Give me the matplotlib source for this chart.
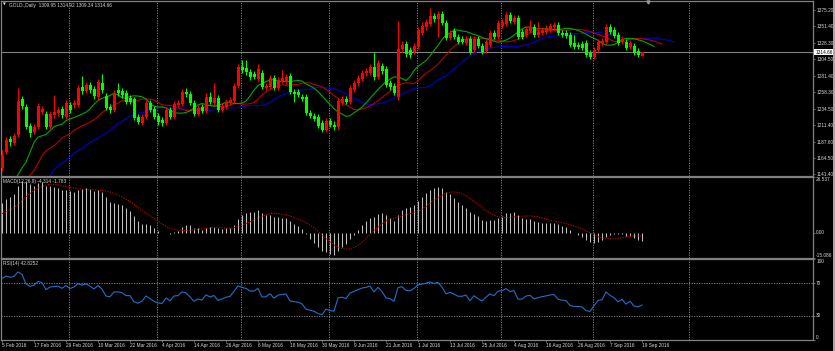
import numpy as np
import pandas as pd
import matplotlib
matplotlib.use("Agg")
import matplotlib.pyplot as plt
from matplotlib.patches import Rectangle

plt.rcParams['font.family'] = ['Liberation Sans', 'DejaVu Sans']

# ------------------------------------------------------------------ data
symbol_title = "GOLD.,Daily  1309.95 1314.92 1309.34 1314.66"
macd_title = "MACD(12,26,9) -4.314 -1.783"
rsi_title = "RSI(14) 42.8252"

date_labels = ["5 Feb 2016", "17 Feb 2016", "29 Feb 2016", "10 Mar 2016", "22 Mar 2016",
               "4 Apr 2016", "14 Apr 2016", "26 Apr 2016", "6 May 2016", "18 May 2016",
               "30 May 2016", "9 Jun 2016", "21 Jun 2016", "1 Jul 2016", "13 Jul 2016",
               "25 Jul 2016", "4 Aug 2016", "16 Aug 2016", "26 Aug 2016", "7 Sep 2016",
               "19 Sep 2016"]
price_ticks = [1375.20, 1351.40, 1328.30, 1304.50, 1281.40, 1258.30, 1234.50,
               1211.40, 1187.60, 1164.50, 1141.40]
last_price = 1314.66
macd_scale = (-15.086, 33.6)          # visible range of the MACD window
macd_tick_labels = ["26.537", "0.00", "-15.086"]
rsi_ticks = [100, 70, 30, 0]
rsi_levels = [70, 30]

opens = [1149.9, 1172.7, 1191.2, 1185.5, 1196.9, 1248.1, 1236.7, 1209.7, 1201.2, 1208.3,
         1229.6, 1226.8, 1208.3, 1225.4, 1228.2, 1233.9, 1222.5, 1239.6, 1239.6, 1239.6,
         1265.2, 1259.5, 1268.0, 1262.4, 1251.0, 1270.9, 1252.4, 1236.7, 1232.5, 1260.9,
         1259.5, 1256.7, 1249.5, 1248.1, 1222.5, 1214.0, 1222.5, 1242.4, 1233.9, 1223.9,
         1218.2, 1214.0, 1232.5, 1222.5, 1239.6, 1241.0, 1258.1, 1255.2, 1242.4, 1226.8,
         1236.7, 1231.0, 1251.0, 1242.4, 1249.5, 1232.5, 1236.7, 1242.4, 1245.3, 1266.6,
         1293.7, 1292.2, 1286.5, 1283.7, 1276.6, 1285.1, 1263.8, 1265.2, 1278.0, 1263.8,
         1273.7, 1272.3, 1280.9, 1258.1, 1258.1, 1251.0, 1251.0, 1228.2, 1223.9, 1222.5,
         1214.0, 1204.0, 1216.8, 1211.1, 1208.3, 1242.4, 1248.1, 1243.9, 1260.9, 1270.9,
         1276.6, 1285.1, 1285.1, 1293.7, 1279.4, 1295.1, 1290.8, 1270.9, 1266.6, 1251.0,
         1319.3, 1326.4, 1317.9, 1315.0, 1322.1, 1342.0, 1350.6, 1354.8, 1366.2, 1362.0,
         1369.1, 1356.3, 1334.9, 1344.9, 1336.3, 1333.5, 1327.8, 1333.5, 1317.9, 1333.5,
         1323.5, 1316.4, 1325.0, 1342.0, 1336.3, 1352.0, 1354.8, 1367.7, 1357.7, 1363.4,
         1343.5, 1339.2, 1344.9, 1350.6, 1339.2, 1342.0, 1343.5, 1346.3, 1350.6, 1353.4,
         1342.0, 1342.0, 1339.2, 1327.8, 1325.0, 1326.4, 1327.8, 1313.6, 1307.9, 1317.9,
         1326.4, 1329.2, 1350.6, 1346.3, 1339.2, 1329.2, 1329.2, 1322.1, 1323.5, 1316.4,
         1309.95]
highs = [1175.5, 1194.0, 1195.5, 1199.7, 1263.8, 1252.4, 1241.0, 1214.0, 1212.5, 1242.4,
         1238.2, 1231.0, 1231.0, 1253.8, 1236.7, 1238.2, 1246.7, 1243.9, 1246.7, 1268.0,
         1280.9, 1272.3, 1272.3, 1266.6, 1276.6, 1283.7, 1256.7, 1241.0, 1260.9, 1270.9,
         1263.8, 1260.9, 1253.8, 1251.0, 1226.8, 1226.8, 1246.7, 1246.7, 1238.2, 1228.2,
         1222.5, 1236.7, 1236.7, 1245.3, 1246.7, 1262.4, 1263.8, 1259.5, 1246.7, 1239.6,
         1241.0, 1256.7, 1258.1, 1270.9, 1253.8, 1242.4, 1248.1, 1251.0, 1270.9, 1297.9,
         1303.6, 1303.6, 1290.8, 1288.0, 1297.9, 1289.4, 1270.9, 1282.3, 1282.3, 1279.4,
         1289.4, 1283.7, 1285.1, 1262.4, 1262.4, 1255.2, 1255.2, 1232.5, 1228.2, 1226.8,
         1218.2, 1221.1, 1221.1, 1216.8, 1249.5, 1252.4, 1252.4, 1268.0, 1275.2, 1282.3,
         1289.4, 1292.2, 1297.9, 1315.0, 1303.6, 1299.4, 1295.1, 1275.2, 1270.9, 1359.1,
         1330.7, 1330.7, 1322.1, 1327.8, 1350.6, 1357.7, 1362.0, 1377.6, 1370.5, 1373.3,
         1373.3, 1360.5, 1346.3, 1349.2, 1340.6, 1337.8, 1337.8, 1337.8, 1337.8, 1337.8,
         1327.8, 1333.5, 1346.3, 1346.3, 1360.5, 1362.0, 1372.0, 1372.0, 1367.7, 1367.7,
         1347.7, 1352.0, 1360.5, 1354.8, 1357.7, 1350.6, 1353.4, 1356.3, 1357.7, 1357.7,
         1346.3, 1346.3, 1343.5, 1339.2, 1329.2, 1330.7, 1332.1, 1317.9, 1322.1, 1333.5,
         1334.9, 1354.8, 1354.8, 1350.6, 1343.5, 1337.8, 1333.5, 1332.1, 1327.8, 1320.7,
         1314.92]
lows = [1145.7, 1169.9, 1181.2, 1182.7, 1194.0, 1233.9, 1205.4, 1194.0, 1198.3, 1205.4,
        1226.8, 1205.4, 1205.4, 1221.1, 1223.9, 1221.1, 1219.7, 1228.2, 1235.3, 1236.7,
        1255.2, 1256.7, 1256.7, 1248.1, 1246.7, 1256.7, 1232.5, 1228.2, 1229.6, 1252.4,
        1249.5, 1241.0, 1241.0, 1218.2, 1212.5, 1211.1, 1219.7, 1229.6, 1219.7, 1211.1,
        1209.7, 1211.1, 1219.7, 1219.7, 1236.7, 1238.2, 1251.0, 1239.6, 1223.9, 1223.9,
        1228.2, 1228.2, 1241.0, 1239.6, 1229.6, 1229.6, 1233.9, 1239.6, 1242.4, 1263.8,
        1285.1, 1282.3, 1275.2, 1276.6, 1273.7, 1262.4, 1260.9, 1262.4, 1260.9, 1260.9,
        1270.9, 1269.5, 1255.2, 1243.9, 1251.0, 1245.3, 1225.4, 1221.1, 1216.8, 1206.9,
        1201.2, 1201.2, 1208.3, 1204.0, 1205.4, 1239.6, 1241.0, 1241.0, 1258.1, 1266.6,
        1273.7, 1280.9, 1282.3, 1275.2, 1276.6, 1283.7, 1265.2, 1260.9, 1253.8, 1246.7,
        1315.0, 1307.9, 1306.5, 1312.2, 1319.3, 1339.2, 1346.3, 1352.0, 1357.7, 1336.3,
        1353.4, 1332.1, 1332.1, 1333.5, 1326.4, 1326.4, 1325.0, 1312.2, 1315.0, 1320.7,
        1312.2, 1313.6, 1322.1, 1333.5, 1333.5, 1349.2, 1352.0, 1356.3, 1354.8, 1333.5,
        1333.5, 1336.3, 1342.0, 1336.3, 1336.3, 1339.2, 1340.6, 1343.5, 1347.7, 1339.2,
        1336.3, 1334.9, 1322.1, 1319.3, 1319.3, 1317.9, 1307.9, 1305.0, 1305.0, 1315.0,
        1323.5, 1326.4, 1340.6, 1334.9, 1325.0, 1326.4, 1317.9, 1319.3, 1310.7, 1307.9,
        1309.34]
closes = [1168.4, 1189.8, 1186.9, 1195.5, 1245.3, 1238.2, 1208.3, 1199.7, 1208.3, 1238.2,
          1233.9, 1208.3, 1226.8, 1229.6, 1232.5, 1225.4, 1242.4, 1232.5, 1242.4, 1263.8,
          1259.5, 1268.0, 1260.9, 1252.4, 1272.3, 1260.9, 1235.3, 1232.5, 1256.7, 1256.7,
          1253.8, 1243.9, 1243.9, 1221.1, 1215.4, 1222.5, 1242.4, 1232.5, 1222.5, 1215.4,
          1214.0, 1232.5, 1222.5, 1241.0, 1242.4, 1258.1, 1255.2, 1242.4, 1226.8, 1235.3,
          1231.0, 1251.0, 1243.9, 1249.5, 1232.5, 1238.2, 1243.9, 1246.7, 1266.6, 1293.7,
          1289.4, 1286.5, 1279.4, 1279.4, 1290.8, 1265.2, 1266.6, 1278.0, 1263.8, 1275.2,
          1278.0, 1279.4, 1258.1, 1255.2, 1253.8, 1248.1, 1228.2, 1223.9, 1219.7, 1209.7,
          1204.0, 1216.8, 1211.1, 1208.3, 1245.3, 1248.1, 1243.9, 1263.8, 1270.9, 1278.0,
          1285.1, 1288.0, 1293.7, 1279.4, 1299.4, 1288.0, 1268.0, 1265.2, 1256.7, 1319.3,
          1325.0, 1312.2, 1310.7, 1323.5, 1346.3, 1352.0, 1357.7, 1366.2, 1362.0, 1369.1,
          1356.3, 1334.9, 1342.0, 1336.3, 1329.2, 1329.2, 1333.5, 1315.0, 1333.5, 1323.5,
          1315.0, 1329.2, 1342.0, 1336.3, 1356.3, 1357.7, 1367.7, 1359.1, 1363.4, 1336.3,
          1336.3, 1347.7, 1350.6, 1339.2, 1343.5, 1346.3, 1349.2, 1352.0, 1353.4, 1342.0,
          1339.2, 1337.8, 1325.0, 1322.1, 1322.1, 1320.7, 1310.7, 1307.9, 1317.9, 1329.2,
          1330.7, 1350.6, 1343.5, 1337.8, 1327.8, 1333.5, 1320.7, 1327.8, 1313.6, 1310.7,
          1314.66]

alligator_start = {"jaw": 1117.0, "teeth": 1126.0, "lips": 1130.0}
ema_start = {"fast": 1140.0, "slow": 1123.0}
signal_start = 10.7
rsi_start = {"gain": 8.0, "loss": 3.0, "prev_close": 1150.0}

# ------------------------------------------------------------------ indicators
o = np.array(opens); h = np.array(highs); l = np.array(lows); c = np.array(closes)
n = len(c)
assert len(o) == len(h) == len(l) == n
x = np.arange(n)
median = (h + l) / 2.0


def smma(values, period, start):
    out = np.empty(len(values))
    s = start
    for k, v in enumerate(values):
        if k > 0:
            s = (s * (period - 1) + v) / period
        out[k] = s
    return out


def ema(values, period, start):
    a = 2.0 / (period + 1)
    s = start
    out = []
    for v in values:
        s = s + a * (v - s)
        out.append(s)
    return np.array(out)


jaw = smma(median, 13, alligator_start["jaw"])
teeth = smma(median, 8, alligator_start["teeth"])
lips = smma(median, 5, alligator_start["lips"])

macd = ema(c, 12, ema_start["fast"]) - ema(c, 26, ema_start["slow"])
padded = np.concatenate([np.full(8, signal_start), macd])
signal = np.convolve(padded, np.ones(9) / 9.0, mode="valid")

diff = np.diff(np.concatenate([[rsi_start["prev_close"]], c]))
g, lo = rsi_start["gain"], rsi_start["loss"]
rsi = []
for d in diff:
    g = (g * 13 + max(d, 0)) / 14
    lo = (lo * 13 + max(-d, 0)) / 14
    rsi.append(100 - 100 / (1 + g / lo))
rsi = np.array(rsi)

# trading calendar -> month separators
trade_dates = pd.bdate_range("2016-02-05", "2016-09-19").drop(pd.Timestamp("2016-03-25"))
future = pd.date_range(trade_dates[-1] + pd.Timedelta(days=1), periods=60, freq="D")
month_bars = [k for k in range(1, n) if trade_dates[k].month != trade_dates[k - 1].month]
month_bars += [n - 1 + k + 1 for k in range(len(future)) if future[k].day == 1]

# ------------------------------------------------------------------ figure
W, H = 835, 351
fig = plt.figure(figsize=(W / 100, H / 100), dpi=100, facecolor="black")

GRAY = "#808080"
TXT = "#d8d8d8"
FS = 3.4


def add_ax(top, bottom):
    return fig.add_axes([1 / W, 1 - bottom / H, 812 / W, (bottom - top) / H])


ax1 = add_ax(1, 176)
ax2 = add_ax(177, 258)
ax3 = add_ax(259, 340)

for ax in (ax1, ax2, ax3):
    ax.set_facecolor("black")
    ax.set_xlim(-0.25, 202.75)
    for sp in ax.spines.values():
        sp.set_color(GRAY)
        sp.set_linewidth(0.9)
    ax.yaxis.tick_right()
    ax.tick_params(axis="y", color=GRAY, labelcolor=TXT, labelsize=FS,
                   length=1.5, width=0.6, pad=0.8, direction="out")
    for mb in month_bars:
        ax.axvline(mb - 0.25, color="#8c8c8c", lw=0.6, ls=(0, (1.5, 1.5)), zorder=1)

# ---- price panel
ax1.set_ylim(1138.6, 1387.6)
ax1.set_xticks([])
ax1.set_yticks(price_ticks)
ax1.set_yticklabels([f"{v:.2f}" for v in price_ticks])
ax1.axhline(last_price, color=GRAY, lw=0.8, zorder=2)

up = c >= o
cols = np.where(up, "#ff0000", "#00ff00")
ax1.vlines(x, l, h, colors=cols, lw=0.75, zorder=4)
body_bottom = np.minimum(o, c)
body_h = np.maximum(np.abs(c - o), 0.9)
ax1.bar(x, body_h, bottom=body_bottom, width=0.75, color=cols, linewidth=0, zorder=4)

ax1.plot(x + 8, jaw, color="#0000d0", lw=0.8, zorder=3)
ax1.plot(x + 5, teeth, color="#b80000", lw=0.8, zorder=3)
ax1.plot(x + 3, lips, color="#00a800", lw=0.8, zorder=3)
ax1.plot([n + 0.5], [1386.5], marker="v", ms=2.2, color="#9a9a9a", clip_on=False, zorder=6)

# ---- MACD panel
ax2.set_ylim(*macd_scale)
ax2.set_xticks([])
ax2.set_yticks([macd_scale[1], 0.0, macd_scale[0]])
ax2.set_yticklabels(macd_tick_labels)
for lbl, va in zip(ax2.get_yticklabels(), ["top", "center", "bottom"]):
    lbl.set_va(va)
ax2.vlines(x, 0, macd, colors="#c0c0c0", lw=0.75, zorder=3)
ax2.plot(x, signal, color="#c80000", lw=0.75, ls=(0, (1.2, 1.2)), zorder=4)

# ---- RSI panel
ax3.set_ylim(0, 100)
ax3.set_yticks(rsi_ticks)
ax3.set_yticklabels([str(v) for v in rsi_ticks])
for lbl, va in zip(ax3.get_yticklabels(), ["top", "center", "center", "bottom"]):
    lbl.set_va(va)
for lv in rsi_levels:
    ax3.axhline(lv, color="#8c8c8c", lw=0.6, ls=(0, (1.5, 1.5)), zorder=1)
ax3.plot(x, rsi, color="#2070c8", lw=0.8, zorder=3)
ax3.set_xticks(np.arange(0, n, 8))
ax3.set_xticklabels(date_labels)
ax3.tick_params(axis="x", color=GRAY, labelcolor=TXT, labelsize=FS,
                length=1.5, width=0.6, pad=1.0, direction="out")
for lbl in ax3.get_xticklabels():
    lbl.set_ha("left")


# ---- texts
def ftext(px, py, s, **kw):
    fig.text(px / W, 1 - py / H, s, **kw)


ftext(2.5, 5, "\u25bc", color=TXT, fontsize=2.6, va="center", ha="left",
      family=["DejaVu Sans"])
ftext(9, 5, symbol_title, color=TXT, fontsize=FS, va="center", ha="left")
ftext(3, 181.5, macd_title, color=TXT, fontsize=FS, va="center", ha="left")
ftext(3, 263.5, rsi_title, color=TXT, fontsize=FS, va="center", ha="left")

fig.patches.append(Rectangle((813.5 / W, 1 - 54.8 / H), 19.5 / W, 5.6 / H,
                             transform=fig.transFigure, fc="white", ec="none", zorder=5))
ftext(815.5, 52.0, f"{last_price:.2f}", color="black", fontsize=FS, va="center", ha="left",
      zorder=6)

fig.patches.append(Rectangle((832.5 / W, 0), 2.5 / W, 1, transform=fig.transFigure,
                             fc="#a8a8a8", ec="none"))

fig.savefig("out.png", dpi=100, facecolor="black")
